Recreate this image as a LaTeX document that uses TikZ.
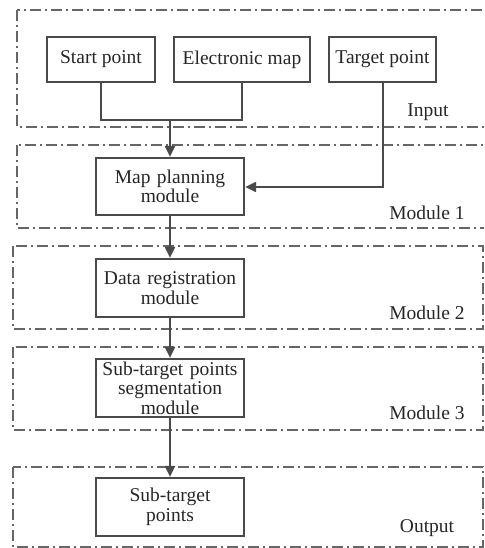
\documentclass[tikz,border=0pt]{standalone}
\usepackage{fontspec}
\setmainfont{Liberation Serif}
\usetikzlibrary{arrows.meta}
\definecolor{boxline}{HTML}{4A4A4A}
\definecolor{frameline}{HTML}{666666}
\begin{document}
\begin{tikzpicture}[x=1pt,y=-1pt,
  every node/.style={font=\fontsize{19.5}{19.5}\selectfont, text=black!85},
  inbox/.style={draw=boxline, line width=2.2pt, inner sep=0pt},
  frame/.style={draw=frameline, line width=1.6pt, dash pattern=on 11pt off 4pt on 2pt off 4pt},
  flow/.style={draw=boxline, line width=2pt},
  tip/.style={-{Triangle[length=11pt,width=10pt]}},
  tag/.style={anchor=base}]
\useasboundingbox (0,0) rectangle (484,548);
\clip (0,0) rectangle (484,548);

% dash-dot group frames
\draw[frame] (17,10) rectangle (500,127);
\draw[frame] (17,145) rectangle (500,228);
\draw[frame] (13,246) rectangle (483,329);
\draw[frame] (13,347) rectangle (483,430);
\draw[frame] (13,467) rectangle (483,547);

% group labels
\node[tag] (lin) at (428,117) {Input};
\node[tag] (lm1) at (427,219) {Module 1};
\node[tag] (lm2) at (427,319) {Module 2};
\node[tag] (lm3) at (427,419) {Module 3};
\node[tag] (lout) at (427,532) {Output};

% input boxes
\node[inbox, minimum width=108pt, minimum height=45pt] (start) at (101,59.5) {Start point};
\node[inbox, minimum width=136pt, minimum height=45pt] (emap) at (242,59.5) {Electronic map};
\node[inbox, minimum width=107pt, minimum height=45pt] (target) at (382.5,59.5) {Target point};

% processing boxes
\tikzset{stage/.style={inbox, minimum width=148pt, text width=146pt, align=center}}
\node[stage, minimum height=57pt] (plan) at (170,186.5) {Map planning\\module};
\node[stage, minimum height=58pt] (reg) at (170,288) {Data registration\\module};
\node[stage, minimum height=58pt] (seg) at (170,388) {Sub-target points\\segmentation\\module};
\node[stage, minimum height=58pt] (sub) at (170,507) {Sub-target\\points};

% connectors
\coordinate (join) at (170,120);
\draw[flow] (start.south) |- (join) -| (emap.south);
\draw[flow, tip] (join) -- (plan.north);
\draw[flow, tip] (target.south) |- (plan.east |- 0,187);
\draw[flow, tip] (plan.south) -- (reg.north);
\draw[flow, tip] (reg.south) -- (seg.north);
\draw[flow, tip] (seg.south) -- (sub.north);
\end{tikzpicture}
\end{document}
